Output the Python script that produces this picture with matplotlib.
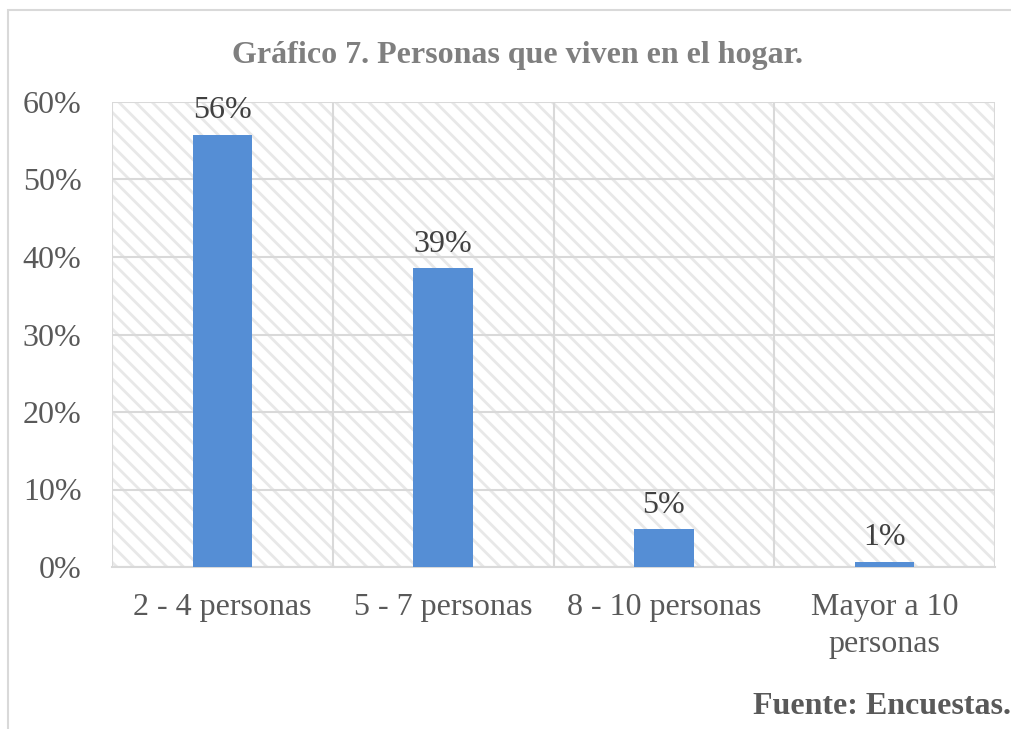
import matplotlib.pyplot as plt
from matplotlib.patches import Rectangle
from matplotlib.ticker import PercentFormatter, MultipleLocator

# Data
categorias = ['2 - 4 personas', '5 - 7 personas', '8 - 10 personas', 'Mayor a 10\npersonas']
valores = [0.558, 0.386, 0.049, 0.007]
etiquetas = ['56%', '39%', '5%', '1%']

plt.rcParams['font.family'] = ['Liberation Serif', 'DejaVu Serif']
plt.rcParams['hatch.linewidth'] = 2.0
plt.rcParams['hatch.color'] = '#e8e8e8'

fig = plt.figure(figsize=(10.11, 7.29), dpi=100)
ax = fig.add_axes([112/1011, 1-567/729, 883/1011, 465/729])

# outer chart frame
fig.patches.append(Rectangle((8/1011, -0.1), 1.2, 1-10/729+0.1, transform=fig.transFigure,
                             fill=False, edgecolor='#d9d9d9', linewidth=1.5))

# hatched plot background
ax.patch.set_facecolor('white')
ax.patch.set_hatch('\\\\')
ax.patch.set_edgecolor('#e8e8e8')

x = range(len(categorias))
ax.bar(x, valores, width=0.27, color='#558ed5', zorder=3)
for xi, v, lab in zip(x, valores, etiquetas):
    ax.text(xi, v + 0.012, lab, ha='center', va='bottom', fontsize=23, color='#404040')

ax.set_xlim(-0.5, len(categorias) - 0.5)
ax.set_ylim(0, 0.6)
ax.yaxis.set_major_locator(MultipleLocator(0.1))
ax.yaxis.set_major_formatter(PercentFormatter(1.0, decimals=0))

# grid: horizontal lines and category separators
ax.grid(axis='y', color='#d9d9d9', linewidth=1.5, zorder=1)
ax.set_axisbelow(True)
for b in [i + 0.5 for i in range(-1, len(categorias))]:
    ax.axvline(b, color='#d9d9d9', linewidth=1.5, zorder=1)

for s in ax.spines.values():
    s.set_visible(False)
ax.spines['bottom'].set_visible(True)
ax.spines['bottom'].set_color('#d9d9d9')
ax.spines['bottom'].set_linewidth(1.5)

ax.set_xticks(list(x))
ax.set_xticklabels(categorias, linespacing=1.35)
ax.tick_params(axis='x', length=0, pad=19, labelsize=23, labelcolor='#595959')
ax.tick_params(axis='y', length=0, pad=22, labelsize=23, labelcolor='#595959')

fig.text(517/1011, 1-55/729, 'Gráfico 7. Personas que viven en el hogar.', ha='center', va='center',
         fontsize=23, fontweight='bold', color='#7f7f7f')
fig.text(1.0, 1-707/729, 'Fuente: Encuestas.', ha='right', va='center',
         fontsize=23, fontweight='bold', color='#595959')

fig.savefig('out.png', dpi=100)
